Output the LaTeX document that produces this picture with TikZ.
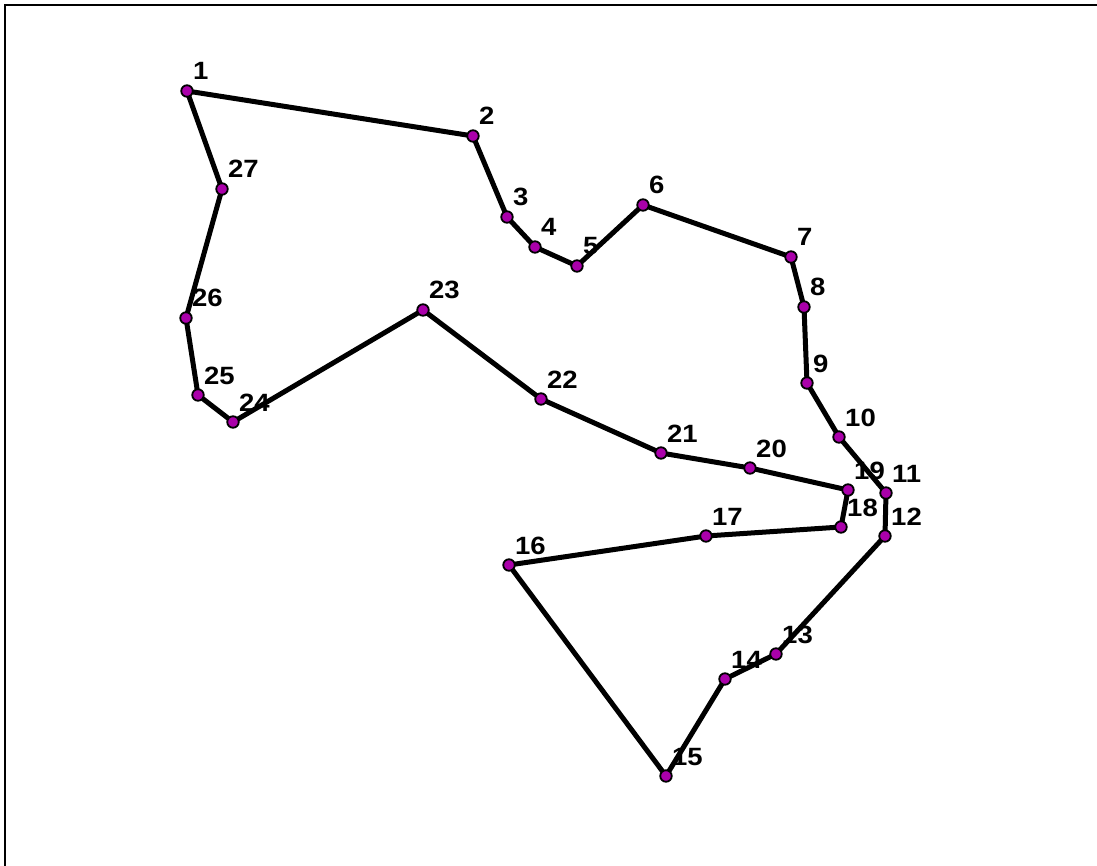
\documentclass[tikz,border=0pt]{standalone}
\usepackage{fontspec}
\setmainfont{Liberation Sans}
\definecolor{ptfill}{RGB}{170,0,170}
\begin{document}
\begin{tikzpicture}[x=1pt,y=-1pt,
  pt/.style={circle,draw=black,line width=1.8pt,fill=ptfill,minimum size=11.5pt,inner sep=0pt},
  edge/.style={line width=5pt,line join=round,line cap=round},
  lbl/.style={anchor=base west,inner sep=0pt,font=\fontsize{25}{25}\selectfont\bfseries}]
\useasboundingbox (0,0) rectangle (1097,866);
\clip (0,0) rectangle (1097,866);
\draw[line width=2.5pt] (5,900) -- (5,5) -- (1200,5);
% coordinates
\coordinate (p1) at (187,91);
\coordinate (p2) at (473,136);
\coordinate (p3) at (507,217);
\coordinate (p4) at (535,247);
\coordinate (p5) at (577,266);
\coordinate (p6) at (643,205);
\coordinate (p7) at (791,257);
\coordinate (p8) at (804,307);
\coordinate (p9) at (807,383);
\coordinate (p10) at (839,437);
\coordinate (p11) at (886,493);
\coordinate (p12) at (885,536);
\coordinate (p13) at (776,654);
\coordinate (p14) at (725,679);
\coordinate (p15) at (666,776);
\coordinate (p16) at (509,565);
\coordinate (p17) at (706,536);
\coordinate (p18) at (841,527);
\coordinate (p19) at (848,490);
\coordinate (p20) at (750,468);
\coordinate (p21) at (661,453);
\coordinate (p22) at (541,399);
\coordinate (p23) at (423,310);
\coordinate (p24) at (233,422);
\coordinate (p25) at (198,395);
\coordinate (p26) at (186,318);
\coordinate (p27) at (222,189);
\draw[edge] (p1) -- (p2) -- (p3) -- (p4) -- (p5) -- (p6) -- (p7) -- (p8) -- (p9)
  -- (p10) -- (p11) -- (p12) -- (p13) -- (p14) -- (p15) -- (p16) -- (p17) -- (p18)
  -- (p19) -- (p20) -- (p21) -- (p22) -- (p23) -- (p24) -- (p25) -- (p26) -- (p27) -- cycle;
\foreach \i in {1,...,27}{
  \node[pt] (n\i) at (p\i) {};
  \node[lbl] (t\i) at ([shift={(6,-11)}]p\i) {\scalebox{1.1}[1]{\i}};
}
\end{tikzpicture}
\end{document}
